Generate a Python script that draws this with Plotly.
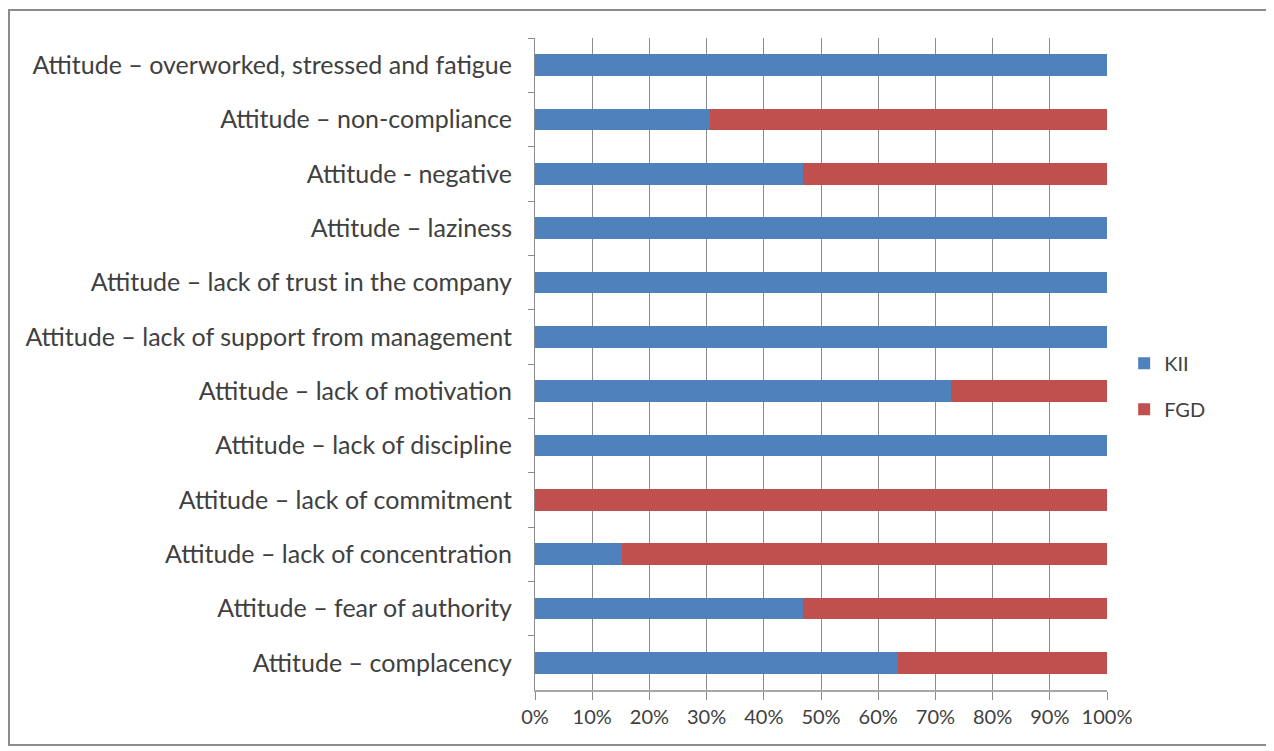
import plotly.graph_objects as go

# categories, top to bottom as in the chart
categories = [
    "Attitude – overworked, stressed and fatigue",
    "Attitude – non-compliance",
    "Attitude - negative",
    "Attitude – laziness",
    "Attitude – lack of trust in the company",
    "Attitude – lack of support from management",
    "Attitude – lack of motivation",
    "Attitude – lack of discipline",
    "Attitude – lack of commitment",
    "Attitude – lack of concentration",
    "Attitude – fear of authority",
    "Attitude – complacency",
]

# share of mentions (%)
kii = [100, 30.6, 46.8, 100, 100, 100, 72.7, 100, 0, 15.2, 46.8, 63.5]
fgd = [0, 69.4, 53.2, 0, 0, 0, 27.3, 0, 100, 84.8, 53.2, 36.5]

x_ticks = [0, 10, 20, 30, 40, 50, 60, 70, 80, 90, 100]
x_ticktext = [f"{v}%" for v in x_ticks]

BLUE = "#4F81BD"
RED = "#C0504D"
TEXT = "#404040"
GRID = "#8C8C8C"

# the page adds an 8px body margin, so the figure is drawn 8px smaller
W, H = 1266, 743
ML, MT, MR, MB = 527, 30, 167, 61
PW, PH = W - ML - MR, H - MT - MB

fig = go.Figure()
fig.add_trace(go.Bar(y=categories, x=kii, name="KII", orientation="h",
                     marker=dict(color=BLUE, line=dict(width=0)),
                     legendgroup="a", hoverinfo="skip"))
fig.add_trace(go.Bar(y=categories, x=fgd, name="FGD", orientation="h",
                     marker=dict(color=RED, line=dict(width=0)),
                     legendgroup="b", hoverinfo="skip"))

fig.update_layout(
    width=W, height=H,
    barmode="stack", bargap=0.6,
    paper_bgcolor="white", plot_bgcolor="white",
    margin=dict(l=ML, r=MR, t=MT, b=MB),
    font=dict(family="Lato, 'Open Sans', sans-serif", color=TEXT, size=25),
    legend=dict(x=1.03, y=0.466, xanchor="left", yanchor="middle",
                font=dict(size=20, color=TEXT), tracegroupgap=17,
                traceorder="grouped", itemwidth=30),
    xaxis=dict(range=[0, 100], tickvals=x_ticks, ticktext=x_ticktext,
               showgrid=True, gridcolor=GRID, gridwidth=1,
               showline=True, linecolor="#A6A6A6", linewidth=2,
               ticks="outside", ticklen=8, tickcolor=GRID,
               tickfont=dict(size=20, color=TEXT), zeroline=False,
               fixedrange=True),
    yaxis=dict(categoryorder="array", categoryarray=categories,
               autorange="reversed", showgrid=False,
               showline=True, linecolor=GRID, linewidth=1,
               ticks="outside", tickson="boundaries", ticklen=6, tickcolor=GRID,
               ticklabelstandoff=17, tickfont=dict(size=25, color=TEXT),
               fixedrange=True),
    shapes=[dict(type="rect", xref="paper", yref="paper",
                 x0=(1 - ML) / PW, x1=(1260 - ML) / PW,
                 y0=-(737 - (MT + PH)) / PH, y1=1 + (MT - 2) / PH,
                 line=dict(color="#8C8C8C", width=2), fillcolor="rgba(0,0,0,0)",
                 layer="below")],
)

fig.write_html("out.html")
